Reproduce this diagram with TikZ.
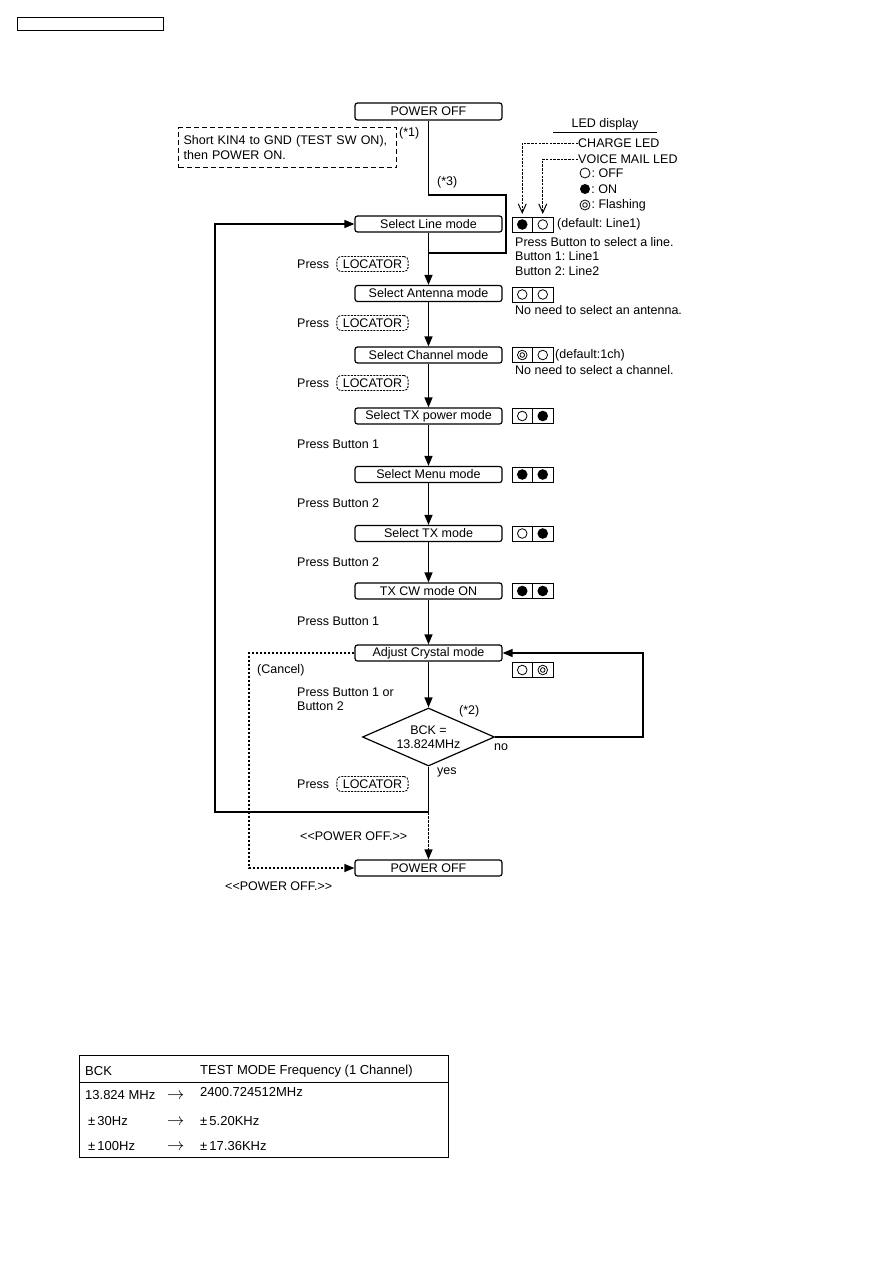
\documentclass[tikz,border=0pt]{standalone}
\usepackage{fontspec}
\setmainfont{Liberation Sans}
\usepackage{tikz}
\usetikzlibrary{
  shapes.geometric,
  arrows.meta,
  positioning
}
\frenchspacing

\begin{document}
\begin{tikzpicture}[
  x=1pt, y=-1pt,
  every node/.style={font=\fontsize{12.5}{14.5}\selectfont},
  txt/.style={anchor=west, inner sep=0pt},
  tab/.style={txt, font=\fontsize{13}{15}\selectfont},
  modebox/.style={draw, line width=1.2pt, rounded corners=2.5pt, minimum width=147pt, minimum height=16pt, inner sep=0pt},
  notebox/.style={draw, line width=1.3pt, dash pattern=on 5pt off 3pt, align=left, text width=208pt, inner xsep=5pt, minimum height=40pt},
  keybox/.style={draw, line width=0.9pt, dash pattern=on 2pt off 1.2pt, rounded corners=4pt, inner xsep=6pt, inner ysep=1.5pt, minimum height=15pt},
  ledcell/.style={draw, line width=1pt, minimum width=20.5pt, minimum height=15pt, inner sep=0pt, outer sep=0pt},
  ledoff/.style={ledcell, path picture={\draw[line width=0.8pt] (path picture bounding box.center) circle (4.8pt);}},
  ledon/.style={ledcell, path picture={\fill (path picture bounding box.center) circle (5.3pt);}},
  ledflash/.style={ledcell, path picture={\draw[line width=0.8pt] (path picture bounding box.center) circle (4.8pt) circle (2.3pt);}},
  legsym/.style={circle, minimum size=10pt, inner sep=0pt},
  decision/.style={diamond, draw, line width=1.2pt, aspect=2.28, minimum width=132pt, minimum height=58pt, inner sep=0pt, align=center},
  flow/.style={line width=1.3pt, -{Triangle[length=10pt, width=8pt]}},
  cancel/.style={line width=1.2pt, dash pattern=on 2.5pt off 1.5pt, -{Triangle[length=10pt, width=8pt]}},
  ledline/.style={line width=1pt, dash pattern=on 2.5pt off 1.2pt, -{Straight Barb[length=9pt, width=8pt]}}
]
  \useasboundingbox (0,0) rectangle (893,1263);
  \node[draw, line width=1pt, anchor=north west, minimum width=146pt, minimum height=13pt, inner sep=0pt] (hdr) at (17,17) {};

  % flow column
  \node[modebox, minimum height=17pt] (pwrtop) at (428.5,111.5) {POWER OFF};
  \node[notebox, anchor=north west] (kin) at (178,127) {Short KIN4 to GND (TEST SW ON),\\then POWER ON.};
  \node[txt] (ast1) at (399,133) {(*1)};
  \node[txt] (ast3) at (437,182) {(*3)};
  \node[modebox] (selline) at (428.5,224) {Select Line mode};
  \node[modebox] (selant) at (428.5,293.5) {Select Antenna mode};
  \node[modebox] (selch) at (428.5,355) {Select Channel mode};
  \node[modebox] (seltxp) at (428.5,416) {Select TX power mode};
  \node[modebox] (selmenu) at (428.5,474.5) {Select Menu mode};
  \node[modebox] (seltx) at (428.5,533.5) {Select TX mode};
  \node[modebox] (txcw) at (428.5,591) {TX CW mode ON};
  \node[modebox] (adjust) at (428.5,653) {Adjust Crystal mode};
  \node[decision] (bck) at (428.5,737) {BCK =\\13.824MHz};
  \node[modebox] (pwrend) at (428.5,868) {POWER OFF};

  \coordinate (j1) at (506,195);
  \coordinate (j2) at (428.5,253);
  \coordinate (lp) at (215,812);
  \coordinate (cn) at (249,653);
  \coordinate (nl) at (643,737);
  \draw[line width=1.3pt] (pwrtop.south) |- (j1) |- (j2);
  \draw[flow] (selline) -- (selant);
  \draw[flow] (selant) -- (selch);
  \draw[flow] (selch) -- (seltxp);
  \draw[flow] (seltxp) -- (selmenu);
  \draw[flow] (selmenu) -- (seltx);
  \draw[flow] (seltx) -- (txcw);
  \draw[flow] (txcw) -- (adjust);
  \draw[flow] (adjust) -- (bck);
  \draw[flow] (bck.south) |- (lp) |- (selline.west);
  \draw[flow] (bck.east) -- (nl) |- (adjust.east);
  \draw[cancel] (bck.south |- lp) -- (pwrend.north);
  \draw[cancel] (adjust.west) -- (cn) |- (pwrend.west);

  % key presses
  \node[txt] (pr1) at (297,264) {Press};
  \node[keybox, right=7pt of pr1] (loc1) {LOCATOR};
  \node[txt] (pr2) at (297,323) {Press};
  \node[keybox, right=7pt of pr2] (loc2) {LOCATOR};
  \node[txt] (pr3) at (297,383) {Press};
  \node[keybox, right=7pt of pr3] (loc3) {LOCATOR};
  \node[txt] (pr4) at (297,784) {Press};
  \node[keybox, right=7pt of pr4] (loc4) {LOCATOR};
  \node[txt] (btn1) at (297,444) {Press Button 1};
  \node[txt] (btn2) at (297,503) {Press Button 2};
  \node[txt] (btn3) at (297,562) {Press Button 2};
  \node[txt] (btn4) at (297,621) {Press Button 1};
  \node[txt, align=left] (btn5) at (297,699.5) {Press Button 1 or\\Button 2};
  \node[txt] (cncl) at (257,670) {(Cancel)};
  \node[txt] (ast2) at (459,711) {(*2)};
  \node[txt] (lblno) at (494,747) {no};
  \node[txt] (lblyes) at (437,772) {yes};
  \node[txt] (off1) at (300,836) {<\kern0pt<POWER OFF.>\kern0pt>};
  \node[txt] (off2) at (225,886) {<\kern0pt<POWER OFF.>\kern0pt>};

  % LED display
  \node[inner xsep=18pt, inner ysep=2.5pt] (leddisp) at (605,124) {LED display};
  \draw[line width=0.8pt] (leddisp.south west) -- (leddisp.south east);
  \node[txt] (chg) at (578,143) {CHARGE LED};
  \node[txt] (vml) at (578,159) {VOICE MAIL LED};
  \node[legsym, draw, line width=0.8pt] (symoff) at (585,173) {};
  \node[txt, right=1pt of symoff] (lgoff) {: OFF};
  \node[legsym, fill] (symon) at (585,189) {};
  \node[txt, right=1pt of symon] (lgon) {: ON};
  \node[legsym, draw, line width=0.8pt, path picture={\draw[line width=0.8pt] (path picture bounding box.center) circle (2.3pt);}] (symfl) at (585,205) {};
  \node[txt, right=1pt of symfl] (lgfl) {: Flashing};

  \node[ledon] (line1) at (522.25,224.5) {};
  \node[ledoff, right=0pt of line1] (line2) {};
  \draw[ledline] (chg.west) -| ([yshift=3pt]line1.north);
  \draw[ledline] (vml.west) -| ([yshift=3pt]line2.north);
  \node[txt] (dfl1) at (557,224.5) {(default: Line1)};
  \node[txt, align=left] (lnote) at (515,256.5) {Press Button to select a line.\\Button 1: Line1\\Button 2: Line2};

  \node[ledoff] (ant1) at (522.25,294.5) {};
  \node[ledoff, right=0pt of ant1] (ant2) {};
  \node[txt] (anote) at (515,310) {No need to select an antenna.};

  \node[ledflash] (ch1) at (522.25,355) {};
  \node[ledoff, right=0pt of ch1] (ch2) {};
  \node[txt] (dfl2) at (555,355) {(default:1ch)};
  \node[txt] (cnote) at (515,370) {No need to select a channel.};

  \node[ledoff] (txp1) at (522.25,416) {};
  \node[ledon, right=0pt of txp1] (txp2) {};
  \node[ledon] (mn1) at (522.25,474.5) {};
  \node[ledon, right=0pt of mn1] (mn2) {};
  \node[ledoff] (tx1) at (522.25,533.5) {};
  \node[ledon, right=0pt of tx1] (tx2) {};
  \node[ledon] (cw1) at (522.25,591) {};
  \node[ledon, right=0pt of cw1] (cw2) {};
  \node[ledoff] (adj1) at (522.25,670) {};
  \node[ledflash, right=0pt of adj1] (adj2) {};

  % frequency table
  \node[draw, line width=1pt, anchor=north west, minimum width=369pt, minimum height=102pt, inner sep=0pt] (tbl) at (79,1055) {};
  \coordinate (hl) at (79,1082);
  \draw[line width=0.8pt] (tbl.west |- hl) -- (tbl.east |- hl);
  \node[tab] (hbck) at (85,1071) {BCK};
  \node[tab] (hfreq) at (200,1071) {TEST MODE Frequency (1 Channel)};
  \node[tab] (r1a) at (85,1095) {13.824 MHz};
  \node[tab] (r1x) at (167,1096) {\fontsize{17}{17}\selectfont$\rightarrow$};
  \node[tab] (r1b) at (200,1092) {2400.724512MHz};
  \node[tab] (r2a) at (88,1121) {±\,30Hz};
  \node[tab] (r2x) at (167,1122) {\fontsize{17}{17}\selectfont$\rightarrow$};
  \node[tab] (r2b) at (200,1121) {±\,5.20KHz};
  \node[tab] (r3a) at (88,1146) {±\,100Hz};
  \node[tab] (r3x) at (167,1147) {\fontsize{17}{17}\selectfont$\rightarrow$};
  \node[tab] (r3b) at (200,1146) {±\,17.36KHz};
\end{tikzpicture}
\end{document}
